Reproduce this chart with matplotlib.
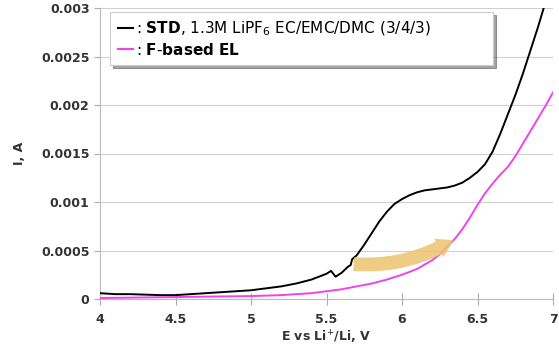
import matplotlib.pyplot as plt
from matplotlib.patches import FancyArrowPatch
from matplotlib.lines import Line2D

# STD electrolyte (black)
std_v = [4.0, 4.1, 4.2, 4.3, 4.4, 4.5, 4.6, 4.7, 4.8, 4.9, 5.0, 5.1, 5.2, 5.3,
         5.4, 5.5, 5.53, 5.56, 5.6, 5.64, 5.66, 5.67, 5.7, 5.75, 5.8, 5.85,
         5.9, 5.95, 6.0, 6.05, 6.1, 6.15, 6.2, 6.25, 6.3, 6.35, 6.4, 6.45,
         6.5, 6.55, 6.6, 6.65, 6.7, 6.75, 6.8, 6.85, 6.9, 6.95]
std_i = [0.00006, 0.00005, 0.00005, 0.000045, 0.00004, 0.00004, 0.00005,
         0.00006, 0.00007, 0.00008, 0.00009, 0.00011, 0.00013, 0.00016,
         0.00020, 0.00026, 0.00029, 0.00023, 0.00027, 0.00033, 0.00035,
         0.00041, 0.00045, 0.00056, 0.00068, 0.00080, 0.00090, 0.00098,
         0.00103, 0.00107, 0.00110, 0.00112, 0.00113, 0.00114, 0.00115,
         0.00117, 0.00120, 0.00125, 0.00131, 0.00139, 0.00152, 0.00170,
         0.00190, 0.00210, 0.00232, 0.00256, 0.00280, 0.00306]

# F-based electrolyte (magenta)
fel_v = [4.0, 4.5, 5.0, 5.2, 5.4, 5.5, 5.6, 5.7, 5.8, 5.9, 6.0, 6.1, 6.2,
         6.25, 6.3, 6.35, 6.4, 6.45, 6.5, 6.55, 6.6, 6.65, 6.7, 6.75, 6.8,
         6.85, 6.9, 6.95, 7.0]
fel_i = [0.00001, 0.00002, 0.00003, 0.00004, 0.00006, 0.00008, 0.00010,
         0.00013, 0.00016, 0.00020, 0.00025, 0.00031, 0.00040, 0.00046,
         0.00054, 0.00062, 0.00072, 0.00084, 0.00097, 0.00109, 0.00119,
         0.00128, 0.00136, 0.00147, 0.00160, 0.00173, 0.00186, 0.00199,
         0.00213]

xticks = [4, 4.5, 5, 5.5, 6, 6.5, 7]
yticks = [0, 0.0005, 0.001, 0.0015, 0.002, 0.0025, 0.003]
ytick_labels = ['0', '0.0005', '0.001', '0.0015', '0.002', '0.0025', '0.003']

fig = plt.figure(figsize=(5.59, 3.45), dpi=100)
ax = fig.add_axes([100 / 559, 46 / 345, 453 / 559, 291 / 345])

ax.plot(std_v, std_i, color='black', lw=1.4, zorder=3)
ax.plot(fel_v, fel_i, color='#ee44ee', lw=1.4, zorder=3)

ax.set_xlim(4, 7)
ax.set_ylim(0, 0.003)
ax.set_xticks(xticks)
ax.set_xticklabels([f'{t:g}' for t in xticks])
ax.set_yticks(yticks)
ax.set_yticklabels(ytick_labels)
ax.tick_params(axis='both', colors='#aaaaaa', labelcolor='#333333',
               labelsize=9, length=4)
ax.tick_params(axis='x', direction='inout', length=8, pad=6)
for lab in ax.get_xticklabels() + ax.get_yticklabels():
    lab.set_fontweight('bold')
ax.grid(axis='y', color='#d0d0d0', lw=0.8)
ax.set_axisbelow(True)
for s in ['top', 'right']:
    ax.spines[s].set_visible(False)
ax.spines['left'].set_color('#bbbbbb')
ax.spines['bottom'].set_color('#bbbbbb')

ax.set_ylabel('I, A', fontsize=9, fontweight='bold', color='#333333', labelpad=11)
ax.set_xlabel(r'E vs Li$^{+}$/Li, V', fontsize=9, fontweight='bold',
              color='#333333', labelpad=2)

# curved yellow arrow pointing from STD to F-based curve
arrow = FancyArrowPatch((5.68, 0.00036), (6.34, 0.00061),
                        connectionstyle='arc3,rad=0.16', shrinkA=0, shrinkB=0,
                        arrowstyle='simple,head_width=15,head_length=12,tail_width=10',
                        color='#edc46e', alpha=0.85, lw=0, zorder=4)
ax.add_patch(arrow)

handles = [Line2D([], [], color='black', lw=1.5),
           Line2D([], [], color='#ee44ee', lw=1.5)]
labels = [r': $\bf{STD}$, 1.3M LiPF$_6$ EC/EMC/DMC (3/4/3)',
          r': $\bf{F\text{-}based\ EL}$']
leg = ax.legend(handles, labels, loc='upper left',
                bbox_to_anchor=(0.022, 0.987, 0.846, 0.0), mode='expand',
                borderaxespad=0, fontsize=11, handlelength=1.0,
                handletextpad=0.2, fancybox=False, shadow=True, framealpha=1,
                edgecolor='#cccccc', borderpad=0.5, labelspacing=0.25)
leg.get_frame().set_linewidth(0.8)

fig.savefig('out.png', dpi=100)
